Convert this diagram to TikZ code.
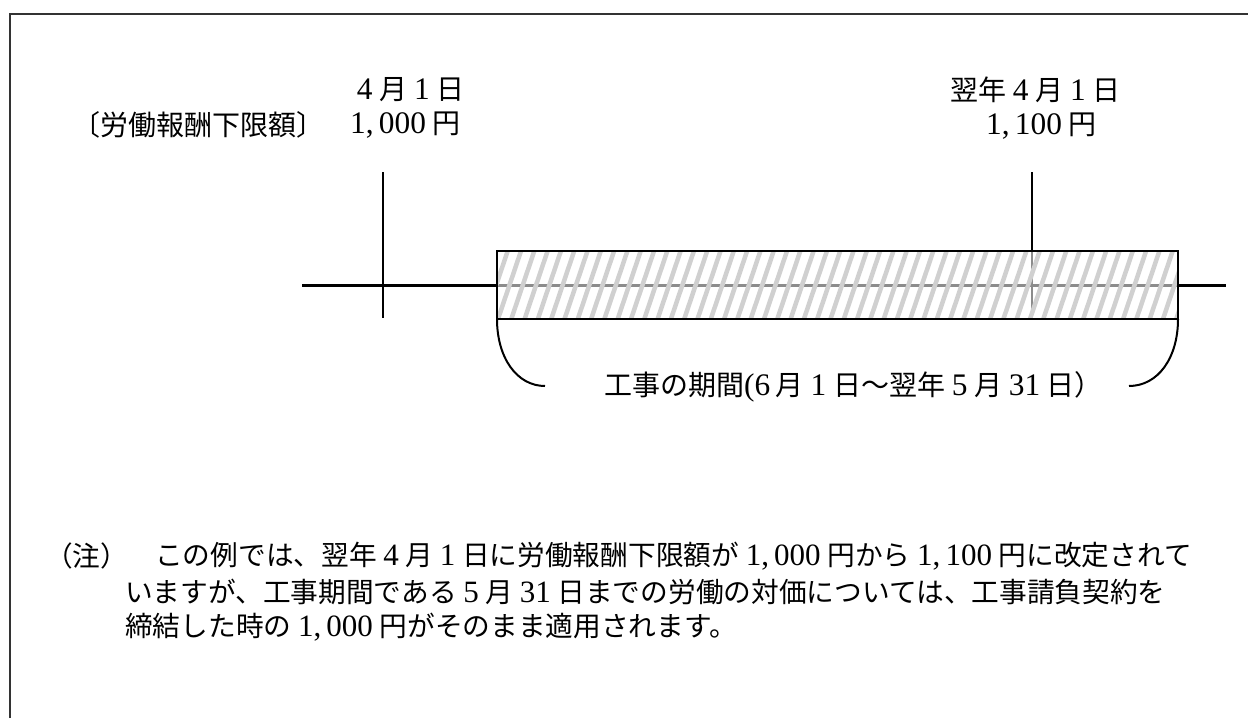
\documentclass[tikz,border=0pt]{standalone}
\usepackage{fontspec}
\setmainfont{Noto Sans CJK JP}
\newfontfamily\numf[Scale=1.12]{Liberation Serif}
\newcommand\dg[1]{\hspace{0.24em}{\numf #1}\hspace{0.24em}}
\definecolor{hatchgray}{HTML}{D0D0D0}
\definecolor{framegray}{HTML}{333333}
\begin{document}
\begin{tikzpicture}[x=1pt,y=-1pt,
  txt/.style={inner sep=0pt, anchor=west, font=\fontsize{28}{34}\selectfont},
  notetxt/.style={inner sep=0pt, anchor=west, font=\fontsize{27.7}{34}\selectfont},
  axisline/.style={line width=3pt},
  markline/.style={line width=2.5pt},
  boxline/.style={line width=1.5pt},
  braceline/.style={line width=2pt},
  hatch/.style={line width=4.5pt, hatchgray}]
\useasboundingbox (0,0) rectangle (1248,718);
% frame
\draw[line width=2pt, framegray] (10,718) -- (10,14) -- (1248,14);

% coordinates
\coordinate (axL) at (302,285);
\coordinate (axR) at (1226,285);
\coordinate (m1t) at (383,172);
\coordinate (m1b) at (383,318);
\coordinate (m2t) at (1032,172);
\coordinate (m2b) at (1032,319);
\coordinate (bl) at (497,319);
\coordinate (tr) at (1178,251);
\coordinate (br) at (1178,319);
\coordinate (cl) at (545,386);
\coordinate (cr) at (1129,386);

% axis and marks
\draw[axisline] (axL) -- (axR);
\draw[markline] (m1t) -- (m1b);
\draw[markline] (m2t) -- (m2b);

% period bar
\fill[white, opacity=0.55] (bl) rectangle (tr);
\begin{scope}
  \clip (bl) rectangle (tr);
  \foreach \i in {-3,...,55} {
    \draw[hatch] (497+13.3*\i,322) -- (497+13.3*\i+25,248);
  }
\end{scope}
\draw[boxline] (bl) rectangle (tr);

% brace ends
\draw[braceline] (bl) .. controls (497,358) and (517,386) .. (cl);
\draw[braceline] (br) .. controls (1178,358) and (1158,386) .. (cr);

% labels
\node[txt] (d1) at (350,90) {\dg{4}月\dg{1}日};
\node[txt] (lbl) at (72,125) {〔労働報酬下限額〕};
\node[txt] (v1) at (350,125) {{\numf 1,\,000}\hspace{0.24em}円};
\node[txt] (d2) at (950,90) {翌年\dg{4}月\dg{1}日};
\node[txt] (v2) at (986,126) {{\numf 1,\,100}\hspace{0.24em}円};
\node[txt] (per) at (604,387) {工事の期間{\numf(6}\hspace{0.2em}月\dg{1}日～翌年\dg{5}月\dg{31}日）};

% note
\node[notetxt] (n0) at (45,556) {（注）};
\node[notetxt] (n1) at (155,556) {この例では、翌年\dg{4}月\dg{1}日に労働報酬下限額が\dg{1,\,000}円から\dg{1,\,100}円に改定されて};
\node[notetxt] (n2) at (125,592) {いますが、工事期間である\dg{5}月\dg{31}日までの労働の対価については、工事請負契約を};
\node[notetxt] (n3) at (125,627) {締結した時の\dg{1,\,000}円がそのまま適用されます。};
\end{tikzpicture}
\end{document}
